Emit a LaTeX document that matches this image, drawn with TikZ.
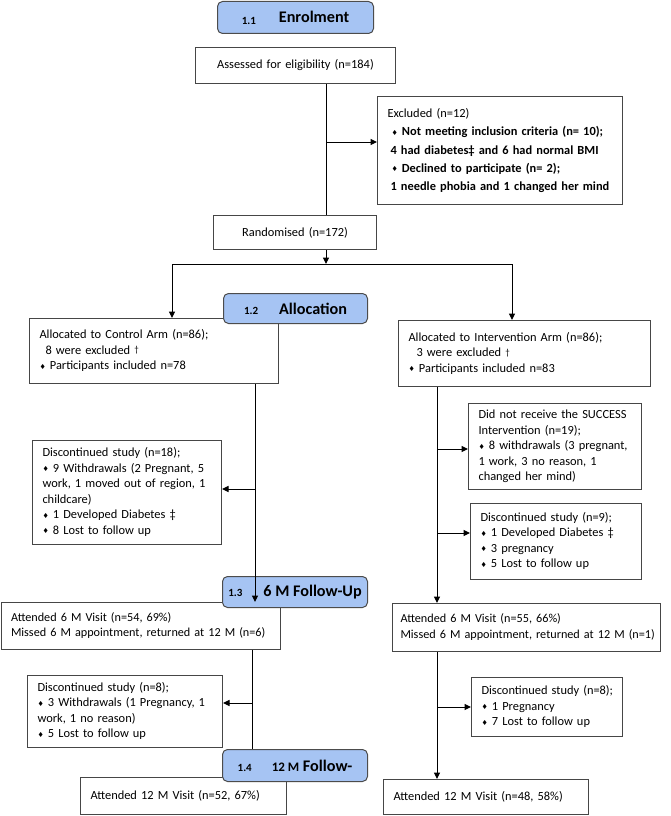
\documentclass[tikz,border=0pt]{standalone}
\usepackage{fontspec}
\setmainfont{Carlito}
\newfontfamily\djv{DejaVu Sans}
\usetikzlibrary{arrows.meta}
\definecolor{hdrblue}{RGB}{166,196,243}
\definecolor{boxline}{RGB}{70,70,70}
\newcommand{\bul}{\raisebox{0.6pt}{\djv\fontsize{7}{7}\selectfont ♦}\ }
\newcommand{\mydag}{{\fontsize{9}{9}\selectfont\raisebox{1.5pt}{†}}}
\newcommand{\rows}[1]{\begin{tabular}{@{}l@{}}#1\end{tabular}}
\newcommand{\num}[1]{{\fontsize{11}{10}\selectfont #1}}
\begin{document}
\begin{tikzpicture}[x=1pt,y=-1pt,
 box/.style={draw=boxline, line width=1pt, fill=white, align=left, inner xsep=10pt, inner ysep=0pt, anchor=north west, font=\fontsize{12.4}{15.5}\selectfont},
 hdr/.style={draw=black!70, line width=1pt, fill=hdrblue, rounded corners=5pt, anchor=north west, inner sep=0pt, align=center, font=\bfseries\fontsize{16.2}{16}\selectfont},
 ln/.style={line width=1pt, draw=black},
 arr/.style={ln, -{Triangle[length=6.5pt,width=6pt]}}]
\useasboundingbox (0,0) rectangle (670,816);
\fill[white] (0,0) rectangle (670,816);

% ---- boxes
\node[box, text width=180pt, minimum height=36pt, align=center] (assess) at (195,47) {Assessed for eligibility (n=184)};
\node[box, text width=225pt, minimum height=108pt, font=\fontsize{12.4}{18.3}\selectfont] (excl) at (377,96)
 {\rows{Excluded (n=12)\\
  \hspace*{4pt}\bul\textbf{Not meeting inclusion criteria (n= 10);}\\
  \hspace*{3pt}\textbf{4 had diabetes‡ and 6 had normal BMI}\\
  \hspace*{4pt}\bul\textbf{Declined to participate (n= 2);}\\
  \hspace*{3pt}\textbf{1 needle phobia and 1 changed her mind}}};
\node[box, text width=143pt, minimum height=34pt, align=center] (rand) at (213,215) {Randomised (n=172)};
\node[box, text width=229pt, minimum height=65pt] (ctrl) at (29,318)
 {\rows{Allocated to Control Arm (n=86);\\
  \hspace*{6pt}8 were excluded \mydag\\
  \bul Participants included n=78}};
\node[box, text width=232pt, minimum height=66pt] (intv) at (398,320)
 {\rows{Allocated to Intervention Arm (n=86);\\
  \hspace*{8pt}3 were excluded \mydag\\
  \bul Participants included n=83}};
\node[box, text width=169pt, minimum height=104pt] (d18) at (32,440)
 {\rows{Discontinued study (n=18);\\
  \bul 9 Withdrawals (2 Pregnant, 5\\
  work, 1 moved out of region, 1\\
  childcare)\\
  \bul 1 Developed Diabetes ‡\\
  \bul 8 Lost to follow up}};
\node[box, text width=153pt, minimum height=86pt] (dnr) at (468,403)
 {\rows{Did not receive the SUCCESS\\
  Intervention (n=19);\\
  \bul 8 withdrawals (3 pregnant,\\
  1 work, 3 no reason, 1\\
  changed her mind)}};
\node[box, text width=151pt, minimum height=76pt] (d9) at (470,503)
 {\rows{Discontinued study (n=9);\\
  \bul 1 Developed Diabetes ‡\\
  \bul 3 pregnancy\\
  \bul 5 Lost to follow up}};
\node[box, text width=259pt, minimum height=47pt, font=\fontsize{12.2}{15.5}\selectfont] (a6L) at (0.5,602)
 {\rows{Attended 6 M Visit (n=54, 69\%)\\
  Missed 6 M appointment, returned at 12 M (n=6)}};
\node[box, inner xsep=8pt, text width=252pt, minimum height=48pt, font=\fontsize{12.2}{15.5}\selectfont] (a6R) at (392,603)
 {\rows{Attended 6 M Visit (n=55, 66\%)\\
  Missed 6 M appointment, returned at 12 M (n=1)}};
\node[box, text width=175pt, minimum height=72pt] (d8L) at (27,675)
 {\rows{Discontinued study (n=8);\\
  \bul 3 Withdrawals (1 Pregnancy, 1\\
  work, 1 no reason)\\
  \bul 5 Lost to follow up}};
\node[box, text width=131pt, minimum height=59pt] (d8R) at (471,677)
 {\rows{Discontinued study (n=8);\\
  \bul 1 Pregnancy\\
  \bul 7 Lost to follow up}};
\node[box, text width=186pt, minimum height=37pt] (a12L) at (80,777) {\rows{Attended 12 M Visit (n=52, 67\%)}};
\node[box, text width=185pt, minimum height=35pt] (a12R) at (383,779) {\rows{Attended 12 M Visit (n=48, 58\%)}};

% ---- stage headers
\node[hdr, minimum width=156pt, minimum height=32pt] (h1) at (217,1)
 {\raisebox{-2pt}{\num{1.1}}\hspace{23pt}Enrolment};
\node[hdr, minimum width=144pt, minimum height=30pt] (h2) at (223,293)
 {\num{1.2}\hspace{21pt}Allocation};
\node[hdr, minimum width=145pt, minimum height=31pt] (h3) at (222,576)
 {\num{1.3}\hspace{21pt}6 M Follow-Up};
\node[hdr, minimum width=145pt, minimum height=32pt] (h4) at (222,749)
 {\num{1.4}\hspace{20pt}{\fontsize{13}{13}\selectfont 12 M} Follow-};

% ---- connectors
\coordinate (v0) at (326,0);
\draw[ln] (assess.south -| v0) -- (rand.north -| v0);
\coordinate (e1) at (326,142);
\draw[arr] (e1) -- (e1 -| excl.west);
\coordinate (br) at (326,264);
\draw[arr] (rand.south -| br) -- (br);
\coordinate (brL) at (172,264);
\coordinate (brR) at (512,264);
\draw[ln] (brL) -- (brR);
\draw[arr] (brL) -- (brL |- ctrl.north);
\draw[arr] (brR) -- (brR |- intv.north);
\coordinate (cL) at (255,489);
\draw[arr] (ctrl.south -| cL) -- (a6L.north -| cL);
\draw[arr] (cL) -- (cL -| d18.east);
\coordinate (cR1) at (437,449);
\coordinate (cR2) at (437,533);
\draw[arr] (intv.south -| cR1) -- (a6R.north -| cR1);
\draw[arr] (cR1) -- (cR1 -| dnr.west);
\draw[arr] (cR2) -- (cR2 -| d9.west);
\coordinate (cL2) at (252,703);
\draw[ln] (a6L.south -| cL2) -- (h4.north -| cL2);
\draw[arr] (cL2) -- (cL2 -| d8L.east);
\coordinate (cR3) at (437,707);
\draw[arr] (a6R.south -| cR3) -- (a12R.north -| cR3);
\draw[arr] (cR3) -- (cR3 -| d8R.west);
\end{tikzpicture}
\end{document}
